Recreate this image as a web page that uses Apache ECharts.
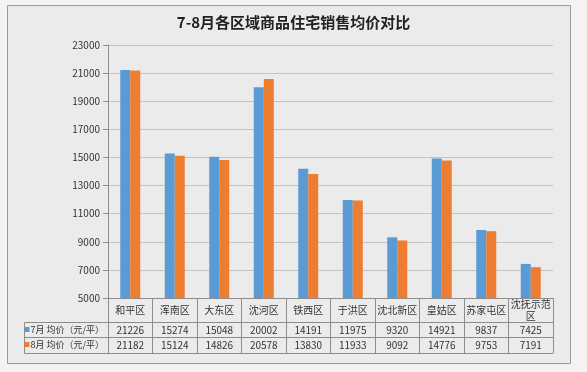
<!DOCTYPE html>
<html><head><meta charset="utf-8">
<script src="https://cdn.jsdelivr.net/npm/echarts@6/dist/echarts.min.js"></script>
<style>html,body{margin:0;padding:0;background:#f3f3f3}#c{width:587px;height:372px}</style>
</head><body><div id="c"></div>
<script>
const titleText = '7-8月各区域商品住宅销售均价对比';
const categories = ['和平区','浑南区','大东区','沈河区','铁西区','于洪区','沈北新区','皇姑区','苏家屯区','沈抚示范\n区'];
const seriesNames = ['7月 均价（元/平）','8月 均价（元/平）'];
const july = [21226,15274,15048,20002,14191,11975,9320,14921,9837,7425];
const aug = [21182,15124,14826,20578,13830,11933,9092,14776,9753,7191];
const yMin = 5000, yMax = 23000, yStep = 2000;
const colors = ['#5b9bd5','#ed7d31'];
const lineC = '#8c8c8c';
const font = '"Microsoft YaHei","Noto Sans CJK SC",sans-serif';

const chart = echarts.init(document.getElementById('c'), null, {renderer:'canvas'});
function rowName(i){ return '{sq'+i+'|}{t|'+seriesNames[i]+'}'; }
const nameStyle = (i)=>({
  padding:[15,0,0,0],
  rich:{
    ['sq'+i]:{width:5,height:5,backgroundColor:colors[i],align:'left'},
    t:{fontSize:9,color:'#333',fontFamily:font,padding:[0,0,0,1],align:'left'}
  }
});
const valAxis = (data, off, i) => ({
  type:'category', data:data.map(String), position:'bottom', offset:off, gridIndex:0,
  axisLine:{show:true,lineStyle:{color:lineC}}, axisTick:{show:false},
  axisLabel:{margin:8,verticalAlign:'middle',fontSize:10,color:'#333',fontFamily:font,interval:0},
  name: rowName(i), nameLocation:'start', nameGap:4, nameTextStyle:Object.assign({align:'right',verticalAlign:'middle'}, nameStyle(i))
});
chart.setOption({
  backgroundColor:'#f3f3f3',
  animation:false,
  title:{text:titleText,left:'center',top:10,textStyle:{fontSize:15,fontWeight:'bold',color:'#222',fontFamily:font}},
  grid:{left:108,right:34,top:45,bottom:74},
  graphic:[
    {type:'rect',z:-10,silent:true,shape:{x:7.5,y:5.5,width:563,height:358},style:{fill:'#ebebeb',stroke:'#9a9a9a',lineWidth:1}},
    {type:'line',silent:true,shape:{x1:24.5,y1:322.5,x2:24.5,y2:353.5},style:{stroke:lineC,lineWidth:1}},
    {type:'line',silent:true,shape:{x1:24.5,y1:322.5,x2:108,y2:322.5},style:{stroke:lineC,lineWidth:1}},
    {type:'line',silent:true,shape:{x1:24.5,y1:337.5,x2:108,y2:337.5},style:{stroke:lineC,lineWidth:1}},
    {type:'line',silent:true,shape:{x1:24.5,y1:353.5,x2:108,y2:353.5},style:{stroke:lineC,lineWidth:1}}
  ],
  xAxis:[
    {type:'category',data:categories,position:'bottom',
     axisLine:{show:true,lineStyle:{color:lineC}},
     axisTick:{show:true,length:55,lineStyle:{color:lineC}},
     axisLabel:{margin:12,verticalAlign:'middle',lineHeight:12,fontSize:10,color:'#333',fontFamily:font,interval:0}},
    valAxis(july,24,0),
    valAxis(aug,39,1),
    {type:'category',data:categories,position:'bottom',offset:55,
     axisLine:{show:true,lineStyle:{color:lineC}},axisTick:{show:false},axisLabel:{show:false}}
  ],
  yAxis:{type:'value',min:yMin,max:yMax,interval:yStep,
    axisLine:{show:true,lineStyle:{color:lineC}},
    axisTick:{show:true,length:5,lineStyle:{color:lineC}},
    axisLabel:{fontSize:10,color:'#333',margin:8,fontFamily:font,formatter:(v)=>String(v)},
    splitLine:{lineStyle:{color:'#c4c4c4'}}},
  series:[
    {name:seriesNames[0],type:'bar',data:july,xAxisIndex:0,barWidth:10,barGap:'0%',itemStyle:{color:colors[0]}},
    {name:seriesNames[1],type:'bar',data:aug,xAxisIndex:0,barWidth:10,barGap:'0%',itemStyle:{color:colors[1]}}
  ]
});
</script></body></html>
